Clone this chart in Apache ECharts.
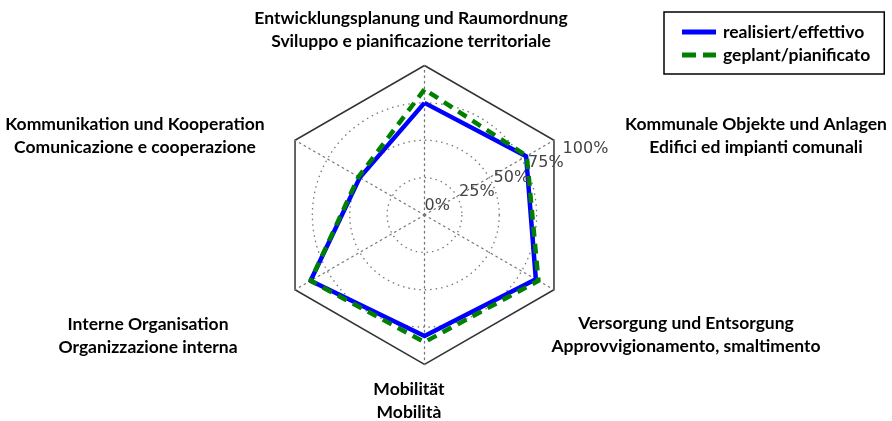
<!DOCTYPE html>
<html>
<head>
<meta charset="utf-8">
<script src="https://cdn.jsdelivr.net/npm/echarts@6/dist/echarts.min.js"></script>
<style>
  html, body { margin: 0; padding: 0; background: #fff; }
  #chart { width: 892px; height: 421px; }
</style>
</head>
<body>
<div id="chart"></div>
<script>
// Achsen, gegen den Uhrzeigersinn ab oben
const categoriesDe = [
  'Entwicklungsplanung und Raumordnung',
  'Kommunikation und Kooperation',
  'Interne Organisation',
  'Mobilität',
  'Versorgung und Entsorgung',
  'Kommunale Objekte und Anlagen'
]
const categoriesIt = [
  'Sviluppo e pianificazione territoriale',
  'Comunicazione e cooperazione',
  'Organizzazione interna',
  'Mobilità',
  'Approvvigionamento, smaltimento',
  'Edifici ed impianti comunali'
]
const seriesNames = ['realisiert/effettivo', 'geplant/pianificato']
const realised = [0.75, 0.50, 0.88, 0.81, 0.86, 0.785]
const planned = [0.84, 0.51, 0.88, 0.85, 0.88, 0.79]
const tickLabels = ['0%', '25%', '50%', '75%', '100%']

// Layout
const cx = 424.5
const cy = 215
const R = 149.5
const labelPos = [[411, 30], [135, 136], [148, 336], [409, 401], [686, 335], [756, 136]]
const labelFont = 'bold 17.5px Lato'

const chart = echarts.init(document.getElementById('chart'))

const graphics = []
categoriesDe.forEach((name, i) => {
  graphics.push({
    type: 'text',
    x: labelPos[i][0],
    y: labelPos[i][1],
    style: {
      text: name + '\n' + categoriesIt[i],
      font: labelFont,
      lineHeight: 23,
      fill: '#000',
      align: 'center',
      verticalAlign: 'middle'
    }
  })
})
// Prozent-Beschriftung entlang 22.5°
const ang = 22.5 * Math.PI / 180
tickLabels.forEach((t, i) => {
  const r = R * i / (tickLabels.length - 1)
  graphics.push({
    type: 'text',
    x: cx + r * Math.cos(ang),
    y: cy - r * Math.sin(ang) - 1,
    z: 10,
    style: {
      text: t,
      font: '16px "DejaVu Sans"',
      fill: '#444',
      align: 'left',
      verticalAlign: 'bottom'
    }
  })
})

const indicator = categoriesDe.map(n => ({ name: n, max: 1, min: 0 }))

const option = {
  animation: false,
  legend: {
    orient: 'vertical',
    left: 664,
    top: 12,
    width: 223,
    padding: [11, 14, 10, 18],
    itemGap: 5,
    itemWidth: 34,
    itemHeight: 5,
    borderColor: '#000',
    borderWidth: 1.5,
    textStyle: { fontFamily: 'Lato', fontWeight: 'bold', fontSize: 17.5, color: '#000', padding: [0, 0, 0, 2] },
    data: [
      { name: seriesNames[0], icon: 'path://M0,0h34v5h-34z' },
      { name: seriesNames[1], icon: 'path://M0,0h14v5h-14z M21,0h13v5h-13z' }
    ]
  },
  radar: [
    {
      center: [cx, cy],
      radius: R * 0.75,
      shape: 'circle',
      splitNumber: 3,
      startAngle: 90,
      indicator: indicator,
      axisName: { show: false },
      axisLine: { show: false },
      axisTick: { show: false },
      splitArea: { show: false },
      splitLine: { lineStyle: { color: '#777', width: 1.3, type: [1.5, 4] } }
    },
    {
      center: [cx, cy],
      radius: R,
      shape: 'polygon',
      splitNumber: 1,
      startAngle: 90,
      indicator: indicator,
      axisName: { show: false },
      axisLine: { lineStyle: { color: '#777', width: 1.3, type: [1.5, 4] } },
      splitArea: { show: false },
      splitLine: { lineStyle: { color: '#333', width: 1.5 } }
    }
  ],
  series: [
    {
      name: seriesNames[0],
      type: 'radar',
      radarIndex: 1,
      symbol: 'none',
      color: '#0000ff',
      lineStyle: { color: '#0000ff', width: 4.5 },
      data: [{ value: realised, name: seriesNames[0] }]
    },
    {
      name: seriesNames[1],
      type: 'radar',
      radarIndex: 1,
      symbol: 'none',
      color: '#008000',
      lineStyle: { color: '#008000', width: 4.5, type: [10, 7] },
      data: [{ value: planned, name: seriesNames[1] }]
    }
  ],
  graphic: graphics
}

chart.setOption(option)
</script>
</body>
</html>
